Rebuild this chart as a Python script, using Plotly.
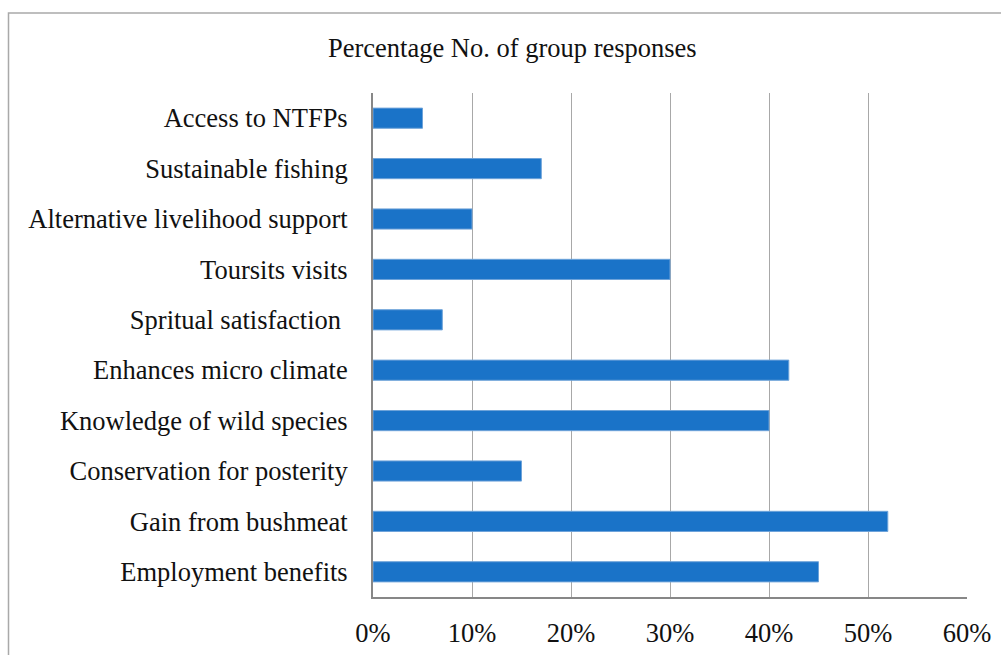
import plotly.graph_objects as go

categories = [
    "Employment benefits",
    "Gain from bushmeat",
    "Conservation for posterity",
    "Knowledge of wild species",
    "Enhances micro climate",
    "Spritual satisfaction ",
    "Toursits visits",
    "Alternative livelihood support",
    "Sustainable fishing",
    "Access to NTFPs",
]
values = [0.45, 0.52, 0.15, 0.40, 0.42, 0.07, 0.30, 0.10, 0.17, 0.05]
tick_vals = [0, 0.1, 0.2, 0.3, 0.4, 0.5, 0.6]
tick_text = ["0%", "10%", "20%", "30%", "40%", "50%", "60%"]
title_text = "Percentage No. of group responses"

FONT = "Liberation Serif"
FS = 26.5

fig = go.Figure(
    go.Bar(
        y=categories,
        x=values,
        orientation="h",
        marker=dict(color="#1a73c8", line=dict(color="#6ea3d9", width=1)),
    )
)

L, R, T, B = 373, 34, 93, 58
W, H = 1001, 655
pw, ph = W - L - R, H - T - B

def px_x(p):
    return (p - L) / pw

def px_y(p):
    return (H - B - p) / ph

fig.update_layout(
    width=W,
    height=H,
    margin=dict(l=L, r=R, t=T, b=B, pad=0),
    paper_bgcolor="white",
    plot_bgcolor="white",
    bargap=0.6,
    showlegend=False,
    font=dict(family=FONT, size=FS, color="#111111"),
    xaxis=dict(
        range=[0, 0.6],
        tickvals=tick_vals,
        ticktext=tick_text,
        showgrid=True,
        gridcolor="#a8a8a8",
        gridwidth=1.3,
        zeroline=False,
        showline=True,
        linecolor="#878787",
        linewidth=2,
        ticks="",
        ticklabelstandoff=11,
        tickfont=dict(family=FONT, size=FS, color="#111111"),
        automargin=False,
        fixedrange=True,
    ),
    yaxis=dict(
        showgrid=False,
        zeroline=False,
        showline=True,
        linecolor="#878787",
        linewidth=2,
        ticks="",
        ticklabelstandoff=18,
        tickfont=dict(family=FONT, size=FS, color="#111111"),
        automargin=False,
        fixedrange=True,
    ),
    annotations=[
        dict(
            text=title_text,
            xref="paper",
            yref="paper",
            x=px_x(512),
            y=px_y(48),
            xanchor="center",
            yanchor="middle",
            showarrow=False,
            font=dict(family=FONT, size=FS, color="#111111"),
        )
    ],
    shapes=[
        dict(
            type="rect",
            xref="paper",
            yref="paper",
            x0=px_x(8.5),
            x1=px_x(1010),
            y0=px_y(670),
            y1=px_y(13),
            line=dict(color="#a9a9a9", width=1.5),
            fillcolor="rgba(0,0,0,0)",
            layer="below",
        )
    ],
)

fig.write_html("out.html")
